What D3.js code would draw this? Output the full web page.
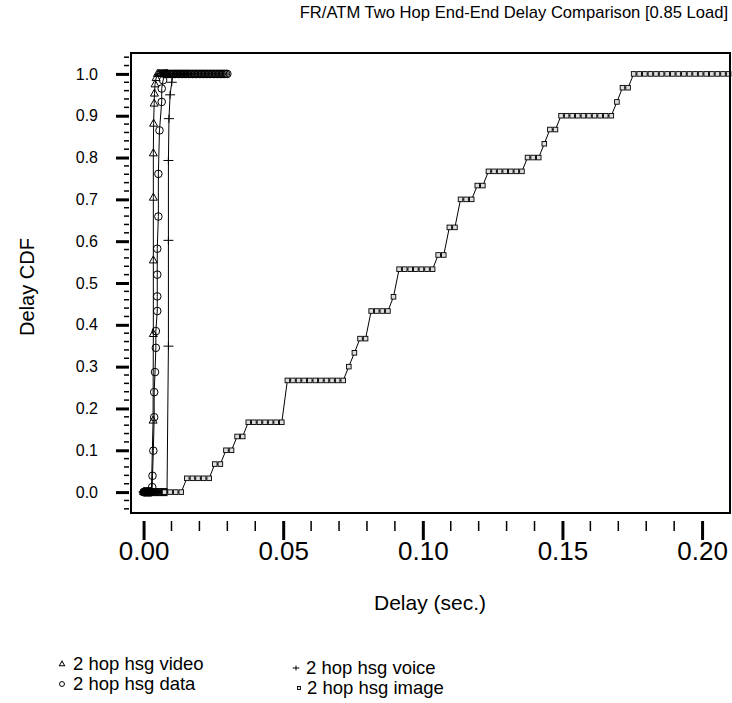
<!DOCTYPE html>
<html>
<head>
<meta charset="utf-8">
<script src="https://cdn.jsdelivr.net/npm/d3@7"></script>
<style>
  body { margin: 0; background: #fff; }
  svg { font-family: "Liberation Sans", Arial, sans-serif; }
</style>
</head>
<body>
<div id="chart"></div>
<script>
const svgWidth = 732;
const svgHeight = 703;

// 2 hop hsg video (triangles)
const videoDelay = [0.0000, 0.0002, 0.0004, 0.0006, 0.0008, 0.0010, 0.0012, 0.0014, 0.0016, 0.0018,
  0.0020, 0.0022, 0.0024, 0.0026, 0.0028,
  0.0034, 0.0035, 0.0035, 0.0035, 0.0035, 0.0036, 0.0038, 0.0039, 0.0041, 0.0045,
  0.0050, 0.0054, 0.0058, 0.0062, 0.0066, 0.0070, 0.0074, 0.0078, 0.0082, 0.0086];
const videoCdf = [0, 0, 0, 0, 0, 0, 0, 0, 0, 0,
  0, 0, 0, 0, 0,
  0.171, 0.378, 0.554, 0.704, 0.810, 0.881, 0.929, 0.953, 0.975, 0.990,
  1, 1, 1, 1, 1, 1, 1, 1, 1, 1];

// 2 hop hsg data (circles)
const dataDelay = [0.0000, 0.0002, 0.0004, 0.0006, 0.0008, 0.0010, 0.0012, 0.0014, 0.0016, 0.0018,
  0.0020, 0.0022, 0.0024, 0.0026, 0.0028,
  0.0031, 0.0032, 0.0035, 0.0038, 0.0038, 0.0041, 0.0044, 0.0044, 0.0049, 0.0049,
  0.0049, 0.0049, 0.0053, 0.0053, 0.0057, 0.0065, 0.0065, 0.0070,
  0.0075, 0.0080, 0.0085, 0.0090, 0.0095, 0.0100, 0.0105, 0.0110, 0.0115, 0.0120,
  0.0125, 0.0130, 0.0135, 0.0140, 0.0145, 0.0150, 0.0155, 0.0160, 0.0165, 0.0170,
  0.0175, 0.0180, 0.0185, 0.0190, 0.0195, 0.0200, 0.0205, 0.0210, 0.0215, 0.0220,
  0.0225, 0.0230, 0.0235, 0.0240, 0.0245, 0.0250, 0.0255, 0.0260, 0.0265, 0.0270,
  0.0275, 0.0280, 0.0285, 0.0290, 0.0295, 0.0300];
const dataCdf = [0, 0, 0, 0, 0, 0, 0, 0, 0, 0,
  0, 0, 0, 0, 0,
  0.012, 0.039, 0.099, 0.179, 0.239, 0.287, 0.345, 0.385, 0.433, 0.468,
  0.520, 0.582, 0.659, 0.761, 0.865, 0.933, 0.965, 0.985,
  1, 1, 1, 1, 1, 1, 1, 1, 1, 1,
  1, 1, 1, 1, 1, 1, 1, 1, 1, 1,
  1, 1, 1, 1, 1, 1, 1, 1, 1, 1,
  1, 1, 1, 1, 1, 1, 1, 1, 1, 1,
  1, 1, 1, 1, 1, 1];

// 2 hop hsg voice (plus)
const voiceDelay = [0.0000, 0.0002, 0.0004, 0.0006, 0.0008, 0.0010, 0.0012, 0.0014, 0.0016, 0.0018,
  0.0020, 0.0022, 0.0024, 0.0026, 0.0028, 0.0030, 0.0032, 0.0034, 0.0036, 0.0038,
  0.0040, 0.0042, 0.0044, 0.0046, 0.0048, 0.0050, 0.0052, 0.0054, 0.0056, 0.0058,
  0.0060, 0.0062, 0.0064, 0.0066, 0.0068, 0.0070, 0.0072, 0.0074, 0.0076, 0.0078,
  0.0080, 0.0082, 0.0084,
  0.0089, 0.0089, 0.0089, 0.0091, 0.0095, 0.0101,
  0.0106, 0.0112, 0.0118, 0.0124, 0.0130, 0.0136, 0.0142, 0.0148, 0.0154, 0.0160];
const voiceCdf = [0, 0, 0, 0, 0, 0, 0, 0, 0, 0,
  0, 0, 0, 0, 0, 0, 0, 0, 0, 0,
  0, 0, 0, 0, 0, 0, 0, 0, 0, 0,
  0, 0, 0, 0, 0, 0, 0, 0, 0, 0,
  0, 0, 0,
  0.349, 0.602, 0.793, 0.893, 0.950, 0.980,
  1, 1, 1, 1, 1, 1, 1, 1, 1, 1];

// 2 hop hsg image (squares)
const imageDelay = [0.0075, 0.0095, 0.0115, 0.0135,
  0.0155, 0.0175, 0.0195, 0.0215, 0.0235,
  0.0255, 0.0275, 0.0295, 0.0315, 0.0335, 0.0355,
  0.0375, 0.0395, 0.0415, 0.0435, 0.0455, 0.0475, 0.0495,
  0.0515, 0.0535, 0.0555, 0.0575, 0.0595, 0.0615, 0.0635, 0.0655, 0.0675, 0.0695, 0.0715,
  0.0735, 0.0755, 0.0775, 0.0795,
  0.0815, 0.0835, 0.0855, 0.0875, 0.0895,
  0.0915, 0.0935, 0.0955, 0.0975, 0.0995, 0.1015, 0.1035,
  0.1055, 0.1075, 0.1095, 0.1115, 0.1135, 0.1155, 0.1175, 0.1195, 0.1215,
  0.1235, 0.1255, 0.1275, 0.1295, 0.1315, 0.1335, 0.1355,
  0.1375, 0.1395, 0.1415, 0.1435, 0.1455, 0.1475,
  0.1495, 0.1515, 0.1535, 0.1555, 0.1575, 0.1595, 0.1615, 0.1635, 0.1655, 0.1675,
  0.1695, 0.1715, 0.1735,
  0.1755, 0.1775, 0.1795, 0.1815, 0.1835, 0.1855, 0.1875, 0.1895, 0.1915, 0.1935, 0.1955, 0.1975,
  0.1995, 0.2015, 0.2035, 0.2055, 0.2075, 0.2095];
const imageCdf = [0, 0, 0, 0,
  0.033, 0.033, 0.033, 0.033, 0.033,
  0.067, 0.067, 0.100, 0.100, 0.133, 0.133,
  0.167, 0.167, 0.167, 0.167, 0.167, 0.167, 0.167,
  0.267, 0.267, 0.267, 0.267, 0.267, 0.267, 0.267, 0.267, 0.267, 0.267, 0.267,
  0.300, 0.333, 0.367, 0.367,
  0.433, 0.433, 0.433, 0.433, 0.467,
  0.533, 0.533, 0.533, 0.533, 0.533, 0.533, 0.533,
  0.567, 0.567, 0.633, 0.633, 0.700, 0.700, 0.700, 0.733, 0.733,
  0.767, 0.767, 0.767, 0.767, 0.767, 0.767, 0.767,
  0.800, 0.800, 0.800, 0.833, 0.867, 0.867,
  0.900, 0.900, 0.900, 0.900, 0.900, 0.900, 0.900, 0.900, 0.900, 0.900,
  0.933, 0.967, 0.967,
  1, 1, 1, 1, 1, 1, 1, 1, 1, 1, 1, 1,
  1, 1, 1, 1, 1, 1];

const xTicks = [0, 0.05, 0.10, 0.15, 0.20];
const yTicks = [0, 0.1, 0.2, 0.3, 0.4, 0.5, 0.6, 0.7, 0.8, 0.9, 1.0];

const svg = d3.select('#chart').append('svg')
  .attr('width', svgWidth)
  .attr('height', svgHeight);

const x = d3.scaleLinear().domain([-0.0045, 0.21]).range([131, 730]);
const y = d3.scaleLinear().domain([-0.05, 1.05]).range([513, 53]);

// symbols
const triPath = 'M0,-4.5L4,2.5L-4,2.5Z';
const plusPath = 'M-5,0H5M0,-4V4';
const drawMark = (g, kind, scale) => {
  const s = scale || 1;
  if (kind === 'tri') {
    g.append('path').attr('d', triPath).attr('transform', `scale(${s})`)
      .attr('fill', 'none').attr('stroke', '#000').attr('stroke-width', 1 / s);
  } else if (kind === 'circle') {
    g.append('circle').attr('r', 3.8 * s)
      .attr('fill', 'none').attr('stroke', '#000').attr('stroke-width', 1);
  } else if (kind === 'plus') {
    g.append('path').attr('d', plusPath).attr('transform', `scale(${s})`)
      .attr('fill', 'none').attr('stroke', '#000').attr('stroke-width', 1 / s);
  } else {
    g.append('rect').attr('x', -2.3 * s).attr('y', -2.3 * s)
      .attr('width', 4.6 * s).attr('height', 4.6 * s)
      .attr('fill', '#ddd').attr('stroke', '#000').attr('stroke-width', 0.9);
  }
};

const series = [
  { name: '2 hop hsg video', kind: 'tri', xs: videoDelay, ys: videoCdf },
  { name: '2 hop hsg data', kind: 'circle', xs: dataDelay, ys: dataCdf },
  { name: '2 hop hsg voice', kind: 'plus', xs: voiceDelay, ys: voiceCdf },
  { name: '2 hop hsg image', kind: 'square', xs: imageDelay, ys: imageCdf }
];

const line = d3.line()
  .x(d => x(d[0]))
  .y(d => y(d[1]));

const plot = svg.append('g');

series.forEach((s) => {
  const pts = s.xs.map((v, i) => [v, s.ys[i]]);
  plot.append('path')
    .datum(pts)
    .attr('d', line)
    .attr('fill', 'none')
    .attr('stroke', '#000')
    .attr('stroke-width', 1);
  plot.selectAll(null)
    .data(pts)
    .enter()
    .append('g')
    .attr('transform', d => `translate(${x(d[0])},${y(d[1])})`)
    .each(function () { drawMark(d3.select(this), s.kind, 1); });
});

// frame
svg.append('rect')
  .attr('x', 131).attr('y', 53)
  .attr('width', 599).attr('height', 460)
  .attr('fill', 'none')
  .attr('stroke', '#000')
  .attr('stroke-width', 2);

// y axis
const yMinor = d3.range(-4, 105, 2).map(v => v / 100).filter(v => Math.round(v * 100) % 10 !== 0);
const yAxisG = svg.append('g').attr('transform', 'translate(129,0)');
yAxisG.call(d3.axisLeft(y).tickValues(yTicks).tickSize(13).tickPadding(18).tickFormat(d3.format('.1f')));
yAxisG.select('.domain').remove();
yAxisG.selectAll('line').attr('stroke-width', 3);
yAxisG.selectAll('text').attr('font-size', 16).attr('font-family', '"Liberation Sans", Arial, sans-serif').attr('fill', '#000');
yAxisG.selectAll('.minor').data(yMinor).enter().append('line')
  .attr('x1', -5).attr('x2', 0)
  .attr('y1', d => y(d)).attr('y2', d => y(d))
  .attr('stroke', '#000').attr('stroke-width', 1.5);

// x axis
const xMinor = d3.range(1, 21).map(v => v / 100).filter(v => Math.round(v * 100) % 5 !== 0);
const xAxisG = svg.append('g').attr('transform', 'translate(0,521)');
xAxisG.call(d3.axisBottom(x).tickValues(xTicks).tickSize(19).tickPadding(2).tickFormat(d3.format('.2f')));
xAxisG.select('.domain').remove();
xAxisG.selectAll('line').attr('stroke-width', 3);
xAxisG.selectAll('text').attr('font-size', 26).attr('font-family', '"Liberation Sans", Arial, sans-serif').attr('fill', '#000');
xAxisG.selectAll('.minor').data(xMinor).enter().append('line')
  .attr('x1', d => x(d)).attr('x2', d => x(d))
  .attr('y1', 0).attr('y2', 10)
  .attr('stroke', '#000').attr('stroke-width', 1.5);

// titles
svg.append('text')
  .attr('x', 728).attr('y', 18)
  .attr('text-anchor', 'end')
  .attr('font-size', 16.6)
  .text('FR/ATM Two Hop End-End Delay Comparison [0.85 Load]');

svg.append('text')
  .attr('x', 430).attr('y', 610)
  .attr('text-anchor', 'middle')
  .attr('font-size', 21)
  .text('Delay (sec.)');

svg.append('text')
  .attr('transform', 'translate(34,287) rotate(-90)')
  .attr('text-anchor', 'middle')
  .attr('font-size', 20)
  .text('Delay CDF');

// legend
const legendPos = [
  { mx: 62, my: 664, tx: 73, ty: 670 },
  { mx: 62, my: 684, tx: 73, ty: 690 },
  { mx: 296, my: 668, tx: 306, ty: 674 },
  { mx: 299, my: 688, tx: 307, ty: 694 }
];
series.forEach((s, i) => {
  const p = legendPos[i];
  const g = svg.append('g').attr('transform', `translate(${p.mx},${p.my})`);
  drawMark(g, s.kind, 0.65);
  svg.append('text')
    .attr('x', p.tx).attr('y', p.ty)
    .attr('font-size', 18.5)
    .text(s.name);
});
</script>
</body>
</html>
